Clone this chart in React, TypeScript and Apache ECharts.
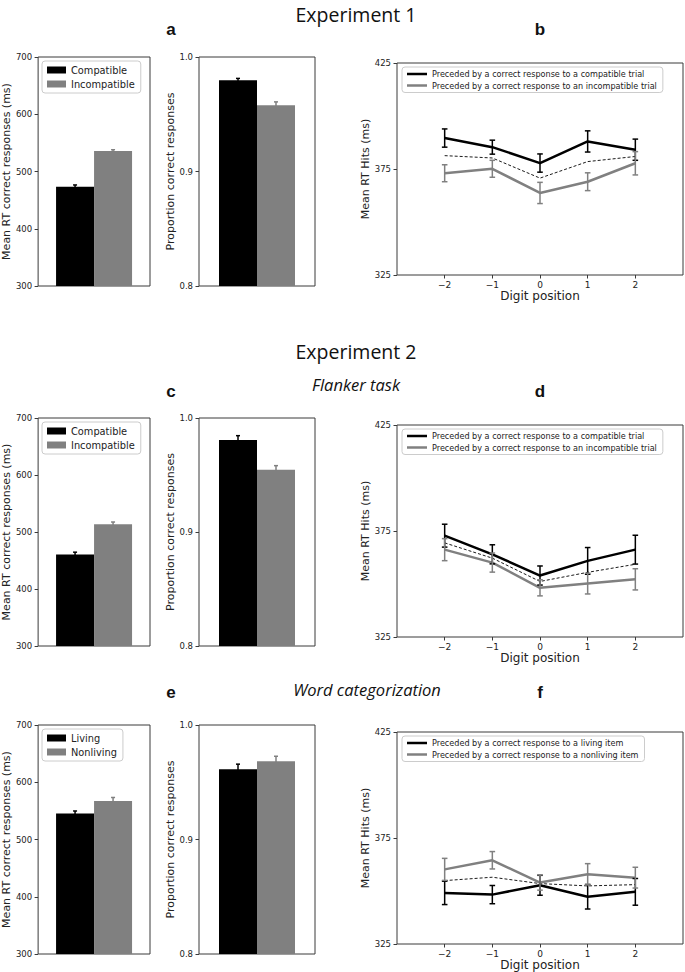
import React, { useEffect, useRef } from "react";
import * as echarts from "echarts";

// ---------- data ----------
const barLegendExp = ["Compatible", "Incompatible"];
const barLegendWord = ["Living", "Nonliving"];

const rtExp1 = [473.5, 536];
const rtErrExp1 = [3, 2];
const accExp1 = [0.9796, 0.9578];
const accErrExp1 = [0.0017, 0.003];

const rtFlanker = [460.6, 513.5];
const rtErrFlanker = [4, 4];
const accFlanker = [0.9807, 0.9547];
const accErrFlanker = [0.0038, 0.0035];

const rtWord = [545.3, 567.4];
const rtErrWord = [4.5, 6];
const accWord = [0.9614, 0.9683];
const accErrWord = [0.0044, 0.0044];

const digitPositions = [-2, -1, 0, 1, 2];

const lineLegendExp = [
  "Preceded by a correct response to a compatible trial",
  "Preceded by a correct response to an incompatible trial",
];
const lineLegendWord = [
  "Preceded by a correct response to a living item",
  "Preceded by a correct response to a nonliving item",
];

const bPrevCompat = [389.6, 385.3, 377.8, 388, 384.1];
const bPrevCompatErr = [4.3, 3.3, 4.3, 5, 5];
const bPrevIncompat = [373, 375.1, 363.7, 369, 377.7];
const bPrevIncompatErr = [4, 4, 5, 4.2, 5.5];
const bMean = [381.3, 380.2, 370.7, 378.5, 380.9];

const dPrevCompat = [372.8, 364, 354, 360.9, 366.2];
const dPrevCompatErr = [5.4, 4.5, 4.5, 6.3, 6.8];
const dPrevIncompat = [366.2, 360.1, 348.2, 350.2, 352.2];
const dPrevIncompatErr = [5.2, 4.5, 3.8, 4.9, 5];
const dMean = [369.4, 362.2, 351.2, 355.5, 359.3];

const fPrevLiving = [349.1, 348.3, 352.7, 347.3, 349.6];
const fPrevLivingErr = [5.5, 4.3, 4.7, 5.8, 6.3];
const fPrevNonliving = [360.2, 364.5, 354, 357.9, 356.3];
const fPrevNonlivingErr = [5.2, 4.1, 3.6, 5, 4.9];
const fMean = [354.9, 356.5, 353.5, 352.4, 353];

const rtTicks = [300, 700, 100];
const accTicks = [0.8, 1.0, 0.1];
const hitsTicks = [325, 375, 425];

// ---------- styles ----------
const FONT = "DejaVu Sans";
const BLACK = "#000000";
const GRAY = "#808080";
const AXIS = "#3a3a3a";
const TXT = "#222222";

const minus = (v: number) => (v < 0 ? "\u2212" + Math.abs(v) : String(v));

function errSeries(
  xi: number,
  xs: number[],
  means: number[],
  errs: number[],
  color: string,
  offset: number,
  cap: number,
  lw: number
) {
  return {
    type: "custom",
    xAxisIndex: xi,
    yAxisIndex: xi,
    silent: true,
    z: 6,
    clip: false,
    data: xs.map((x, i) => [x, means[i], errs[i]]),
    renderItem: (params: any, api: any) => {
      const x = api.value(0);
      const m = api.value(1);
      const e = api.value(2);
      const lo = api.coord([x, m - e]);
      const hi = api.coord([x, m + e]);
      const cx = lo[0] + offset;
      const st = { stroke: color, lineWidth: lw };
      return {
        type: "group",
        children: [
          { type: "line", shape: { x1: cx, y1: lo[1], x2: cx, y2: hi[1] }, style: st },
          { type: "line", shape: { x1: cx - cap, y1: lo[1], x2: cx + cap, y2: lo[1] }, style: st },
          { type: "line", shape: { x1: cx - cap, y1: hi[1], x2: cx + cap, y2: hi[1] }, style: st },
        ],
      };
    },
  };
}

export default function App() {
  const ref = useRef<HTMLDivElement>(null);

  useEffect(() => {
    if (!ref.current) return;
    const chart = echarts.init(ref.current, undefined, { renderer: "svg" });

    const rowTops = [57, 418, 725];
    const rowH = [229, 228, 229];
    const lineTops = [63, 425, 732];

    const grids: any[] = [];
    const xAxes: any[] = [];
    const yAxes: any[] = [];
    const series: any[] = [];
    const legends: any[] = [];

    const gridBase = {
      show: true,
      borderColor: AXIS,
      borderWidth: 1,
      backgroundColor: "transparent",
      containLabel: false,
    };
    const noLine = { show: false, onZero: false };

    const barSets = [
      { rt: rtExp1, rtE: rtErrExp1, acc: accExp1, accE: accErrExp1, names: barLegendExp },
      { rt: rtFlanker, rtE: rtErrFlanker, acc: accFlanker, accE: accErrFlanker, names: barLegendExp },
      { rt: rtWord, rtE: rtErrWord, acc: accWord, accE: accErrWord, names: barLegendWord },
    ];
    const lineSets = [
      { a: bPrevCompat, aE: bPrevCompatErr, b: bPrevIncompat, bE: bPrevIncompatErr, m: bMean, names: lineLegendExp },
      { a: dPrevCompat, aE: dPrevCompatErr, b: dPrevIncompat, bE: dPrevIncompatErr, m: dMean, names: lineLegendExp },
      { a: fPrevLiving, aE: fPrevLivingErr, b: fPrevNonliving, bE: fPrevNonlivingErr, m: fMean, names: lineLegendWord },
    ];

    const tickLabel = { color: TXT, fontSize: 8.5, fontFamily: FONT };
    const axisName = { color: TXT, fontSize: 11, fontFamily: FONT };

    for (let r = 0; r < 3; r++) {
      const bs = barSets[r];
      const ls = lineSets[r];
      // RT bar grid
      const gRT = grids.length;
      grids.push({ ...gridBase, left: 37, top: rowTops[r], width: 113, height: rowH[r] });
      xAxes.push({
        gridIndex: gRT, type: "category", data: [""],
        axisLine: noLine, axisTick: { show: false }, axisLabel: { show: false },
      });
      yAxes.push({
        gridIndex: gRT, type: "value", min: rtTicks[0], max: rtTicks[1], interval: rtTicks[2],
        axisLine: noLine,
        axisTick: { show: true, length: 3.5, lineStyle: { color: AXIS } },
        axisLabel: { ...tickLabel, margin: 6 },
        splitLine: { show: false },
        name: "Mean RT correct responses (ms)", nameLocation: "middle", nameGap: 24,
        nameTextStyle: axisName,
      });
      series.push({
        type: "bar", name: bs.names[0], xAxisIndex: gRT, yAxisIndex: gRT,
        data: [bs.rt[0]], barWidth: 38, barGap: "0%", color: BLACK, itemStyle: { color: BLACK },
      });
      series.push({
        type: "bar", name: bs.names[1], xAxisIndex: gRT, yAxisIndex: gRT,
        data: [bs.rt[1]], barWidth: 38, barGap: "0%", color: GRAY, itemStyle: { color: GRAY },
      });
      series.push(errSeries(gRT, [0], [bs.rt[0]], [bs.rtE[0]], BLACK, -19, 2, 1.5));
      series.push(errSeries(gRT, [0], [bs.rt[1]], [bs.rtE[1]], GRAY, 19, 2, 1.5));
      legends.push({
        data: bs.names, left: 42, top: rowTops[r] + 4, orient: "vertical",
        icon: "rect", itemWidth: 19, itemHeight: 7, itemGap: 4,
        padding: [4, 6, 4, 5], borderColor: "#cccccc", borderWidth: 1, borderRadius: 3,
        backgroundColor: "rgba(255,255,255,0.85)",
        textStyle: { color: TXT, fontSize: 9.8, fontFamily: FONT },
        selectedMode: false,
      });

      // accuracy grid
      const gA = grids.length;
      grids.push({ ...gridBase, left: 199, top: rowTops[r], width: 116, height: rowH[r] });
      xAxes.push({
        gridIndex: gA, type: "category", data: [""],
        axisLine: noLine, axisTick: { show: false }, axisLabel: { show: false },
      });
      yAxes.push({
        gridIndex: gA, type: "value", min: accTicks[0], max: accTicks[1], interval: accTicks[2],
        axisLine: noLine,
        axisTick: { show: true, length: 3.5, lineStyle: { color: AXIS } },
        axisLabel: { ...tickLabel, margin: 6, formatter: (v: number) => v.toFixed(1) },
        splitLine: { show: false },
        name: "Proportion correct responses", nameLocation: "middle", nameGap: 19,
        nameTextStyle: axisName,
      });
      series.push({
        type: "bar", name: bs.names[0], xAxisIndex: gA, yAxisIndex: gA,
        data: [bs.acc[0]], barWidth: 38, barGap: "0%", color: BLACK, itemStyle: { color: BLACK },
      });
      series.push({
        type: "bar", name: bs.names[1], xAxisIndex: gA, yAxisIndex: gA,
        data: [bs.acc[1]], barWidth: 38, barGap: "0%", color: GRAY, itemStyle: { color: GRAY },
      });
      series.push(errSeries(gA, [0], [bs.acc[0]], [bs.accE[0]], BLACK, -19, 2, 1.5));
      series.push(errSeries(gA, [0], [bs.acc[1]], [bs.accE[1]], GRAY, 19, 2, 1.5));

      // line grid
      const gL = grids.length;
      grids.push({ ...gridBase, left: 397, top: lineTops[r], width: 286, height: 212 });
      xAxes.push({
        gridIndex: gL, type: "value", min: -3, max: 3, interval: 1,
        axisLine: noLine,
        axisTick: { show: true, length: 3.5, lineStyle: { color: AXIS }, customValues: digitPositions },
        axisLabel: { ...tickLabel, fontSize: 9, margin: 5, customValues: digitPositions, formatter: minus },
        splitLine: { show: false },
        name: "Digit position", nameLocation: "middle", nameGap: 15,
        nameTextStyle: { ...axisName, fontSize: 12 },
      });
      yAxes.push({
        gridIndex: gL, type: "value", min: hitsTicks[0], max: hitsTicks[2],
        axisLine: noLine,
        axisTick: { show: true, length: 3.5, lineStyle: { color: AXIS }, customValues: hitsTicks },
        axisLabel: { ...tickLabel, margin: 6, customValues: hitsTicks },
        splitLine: { show: false },
        name: "Mean RT Hits (ms)", nameLocation: "middle", nameGap: 19,
        nameTextStyle: axisName,
      });
      series.push({
        type: "line", name: ls.names[0], xAxisIndex: gL, yAxisIndex: gL,
        data: digitPositions.map((x, i) => [x, ls.a[i]]), showSymbol: false, color: BLACK,
        lineStyle: { color: BLACK, width: 2.5 }, z: 4,
      });
      series.push({
        type: "line", name: ls.names[1], xAxisIndex: gL, yAxisIndex: gL,
        data: digitPositions.map((x, i) => [x, ls.b[i]]), showSymbol: false, color: GRAY,
        lineStyle: { color: GRAY, width: 2.5 }, z: 4,
      });
      series.push({
        type: "line", name: "mean", xAxisIndex: gL, yAxisIndex: gL,
        data: digitPositions.map((x, i) => [x, ls.m[i]]), showSymbol: false, color: BLACK,
        lineStyle: { color: BLACK, width: 0.9, type: [3, 2] }, z: 3,
      });
      series.push(errSeries(gL, digitPositions, ls.a, ls.aE, BLACK, 0, 2.8, 1.5));
      series.push(errSeries(gL, digitPositions, ls.b, ls.bE, GRAY, 0, 2.8, 1.5));
      legends.push({
        data: ls.names, left: 402, top: lineTops[r] + 4, orient: "vertical",
        icon: "rect", itemWidth: 20, itemHeight: 2.5, itemGap: 3.5,
        padding: [3, 6, 3, 5], borderColor: "#cccccc", borderWidth: 1, borderRadius: 3,
        backgroundColor: "rgba(255,255,255,0.85)",
        textStyle: { color: TXT, fontSize: 8.1, fontFamily: FONT },
        selectedMode: false,
      });
    }

    const titleFont = "Open Sans";
    const heading = (text: string, x: number, y: number, size: number, italic = false) => ({
      type: "text", x, y,
      style: {
        text, fill: "#111", fontSize: size, fontFamily: titleFont,
        fontStyle: italic ? "italic" : "normal",
        align: "center", verticalAlign: "middle",
      },
    });
    const letter = (text: string, x: number, y: number) => ({
      type: "text", x, y,
      style: {
        text, fill: "#111", fontSize: 17, fontWeight: "bold", fontFamily: "Liberation Sans",
        align: "center", verticalAlign: "middle",
      },
    });

    chart.setOption({
      animation: false,
      textStyle: { fontFamily: FONT },
      grid: grids,
      xAxis: xAxes,
      yAxis: yAxes,
      legend: legends,
      series,
      graphic: [
        heading("Experiment 1", 356, 14, 19.5),
        heading("Experiment 2", 356, 351, 19.5),
        heading("Flanker task", 356, 384, 16.5, true),
        heading("Word categorization", 367, 689, 16.5, true),
        letter("a", 171, 29),
        letter("b", 540, 29),
        letter("c", 171, 391),
        letter("d", 540, 391),
        letter("e", 171, 692),
        letter("f", 540, 692),
      ],
    });

    return () => chart.dispose();
  }, []);

  return (
    <div
      ref={ref}
      style={{ position: "fixed", left: 0, top: 0, width: 685, height: 972, background: "#fff" }}
    />
  );
}
